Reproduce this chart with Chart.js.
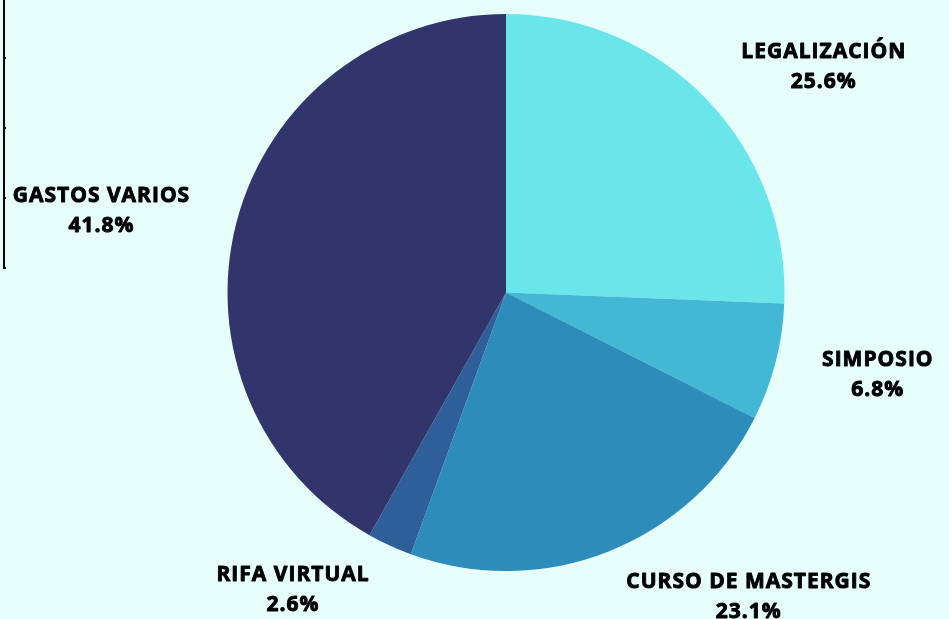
<!DOCTYPE html>
<html lang="es">
<head>
    <meta charset="UTF-8">
    <title>Gastos</title>
    <script src="https://cdn.jsdelivr.net/npm/chart.js"></script>
    <style>
        html, body { margin: 0; padding: 0; background: #e6fffb; }
        .wrap { position: relative; width: 949px; height: 619px; overflow: hidden; }
    </style>
</head>
<body>
    <div class="wrap">
        <canvas id="pieChart"></canvas>
    </div>

    <script>
        // data
        const categories = ['LEGALIZACIÓN', 'SIMPOSIO', 'CURSO DE MASTERGIS', 'RIFA VIRTUAL', 'GASTOS VARIOS'];
        const percents = [25.6, 6.8, 23.1, 2.6, 41.8];
        const sliceColors = ['#6ae5e9', '#43b8d6', '#2e8cbb', '#2f5f98', '#31356c'];

        // labels sit outside each slice: name + percent
        const outsideLabels = {
            id: 'outsideLabels',
            afterDraw(chart) {
                const ctx = chart.ctx;
                const meta = chart.getDatasetMeta(0);
                ctx.save();
                ctx.font = 'bold 21px "Open Sans"';
                if ('letterSpacing' in ctx) ctx.letterSpacing = '1px';
                ctx.fillStyle = '#000';
                ctx.strokeStyle = '#000';
                ctx.lineWidth = 0.9;
                ctx.lineJoin = 'round';
                ctx.textBaseline = 'middle';
                ctx.textAlign = 'center';
                meta.data.forEach((arc, i) => {
                    const mid = (arc.startAngle + arc.endAngle) / 2;
                    const dist = arc.outerRadius + 48;
                    const ax = arc.x + Math.cos(mid) * dist;
                    const ay = arc.y + Math.sin(mid) * dist;
                    const lines = [categories[i], percents[i].toFixed(1) + '%'];
                    const w = Math.max(...lines.map(t => ctx.measureText(t).width));
                    const cx = Math.cos(mid) >= 0 ? ax + w / 2 : ax - w / 2;
                    lines.forEach((t, k) => {
                        const y = ay + (k === 0 ? -15 : 15) + 1;
                        ctx.fillText(t, cx, y);
                        ctx.strokeText(t, cx, y);
                    });
                });
                ctx.restore();
            }
        };

        // thin frame edge showing at the left of the picture
        const leftEdge = {
            id: 'leftEdge',
            afterDraw(chart) {
                const ctx = chart.ctx;
                ctx.save();
                ctx.strokeStyle = '#000';
                ctx.lineWidth = 2;
                ctx.beginPath();
                ctx.moveTo(4, 0);
                ctx.lineTo(4, 268);
                ctx.lineTo(6, 268);
                [58, 128, 198].forEach(y => {
                    ctx.moveTo(4, y);
                    ctx.lineTo(6, y);
                });
                ctx.stroke();
                ctx.restore();
            }
        };

        function renderChart() {
            const ctx = document.getElementById('pieChart').getContext('2d');
            new Chart(ctx, {
                type: 'pie',
                data: {
                    labels: categories,
                    datasets: [{
                        data: percents,
                        backgroundColor: sliceColors,
                        borderWidth: 0
                    }]
                },
                options: {
                    responsive: true,
                    maintainAspectRatio: false,
                    animation: false,
                    layout: { padding: { top: 14, bottom: 48, left: 200, right: 137 } },
                    plugins: {
                        legend: { display: false },
                        tooltip: { enabled: false }
                    }
                },
                plugins: [outsideLabels, leftEdge]
            });
        }

        if (document.fonts && document.fonts.load) {
            document.fonts.load('bold 21px "Open Sans"').then(renderChart, renderChart);
        } else {
            renderChart();
        }
    </script>
</body>
</html>
